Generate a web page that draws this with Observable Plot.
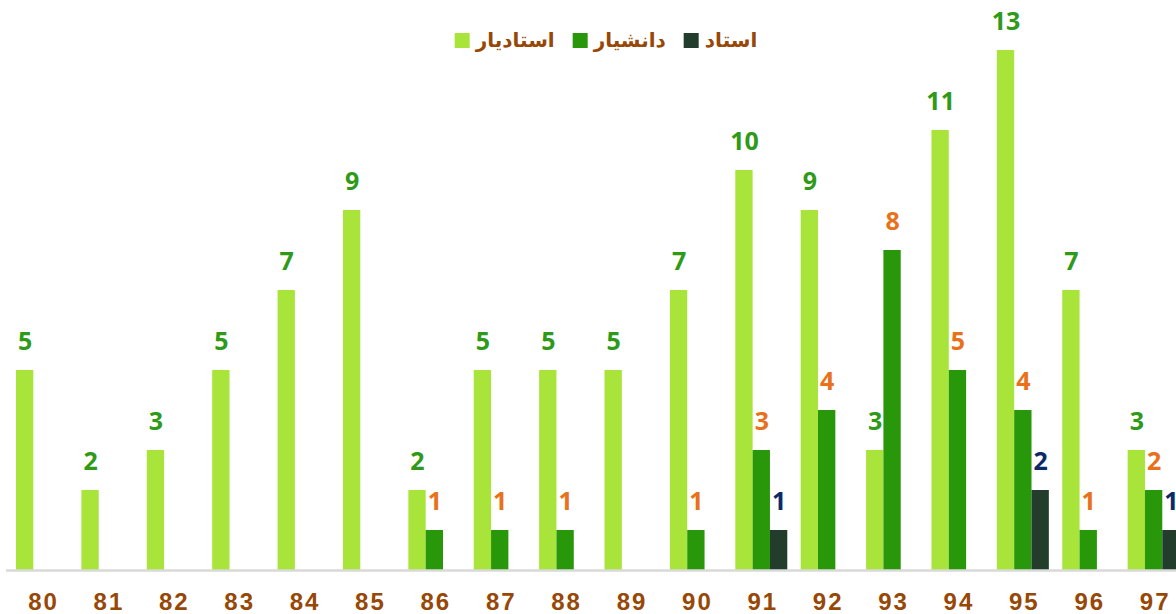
<!DOCTYPE html>
<html>
<head>
<meta charset="utf-8">
<script src="https://cdn.jsdelivr.net/npm/d3@7"></script>
<script src="https://cdn.jsdelivr.net/npm/@observablehq/plot@0.6"></script>
<style>
  html, body { margin: 0; padding: 0; background: #fff; overflow: hidden; width: 1176px; height: 614px; }
  #wrap { position: relative; width: 1176px; height: 614px; overflow: hidden; }
  #legend { position: absolute; top: 28px; left: 606px; transform: translateX(-50%); display: flex; align-items: center; direction: ltr; white-space: nowrap;
    font-family: "DejaVu Sans", sans-serif; font-weight: bold; font-size: 20px; color: #974706; }
  .item { display: flex; align-items: center; margin: 0 9px; }
  .sw { width: 15px; height: 15px; margin-right: 6px; }
  .lab { direction: rtl; unicode-bidi: isolate; }
  #chart svg g[aria-label="x-axis tick label"] text { letter-spacing: 2px; }
</style>
</head>
<body>
<div id="wrap">
  <div id="chart"></div>
  <div id="legend"></div>
</div>
<script>
// Categories (years) and series values
const years = ["80","81","82","83","84","85","86","87","88","89","90","91","92","93","94","95","96","97"];
const seriesNames = ["استادیار", "دانشیار", "استاد"];
const assistantProf = [5,2,3,5,7,9,2,5,5,5,7,10,9,3,11,13,7,3];
const associateProf = [0,0,0,0,0,0,1,1,1,0,1,3,4,8,5,4,1,2];
const fullProf      = [0,0,0,0,0,0,0,0,0,0,0,1,0,0,0,2,0,1];

const barColors = ["#a9e43b", "#28980a", "#233d2c"];
const labelColors = ["#2e9a17", "#e8711a", "#0c2a6a"];
const brown = "#974706";

const seriesValues = [assistantProf, associateProf, fullProf];
const rows = seriesValues.map((vals, s) =>
  years.map((yr, i) => ({year: yr, value: vals[i], series: s})).filter(d => d.value > 0)
);

const step = 65.39, pad = 0.205;
const bw = step * (1 - pad);
const third = bw / 3;

const marks = [];
rows.forEach((data, s) => {
  marks.push(Plot.barY(data, {
    x: "year", y: "value", fill: barColors[s],
    insetLeft: s * third, insetRight: (2 - s) * third
  }));
});
rows.forEach((data, s) => {
  marks.push(Plot.text(data, {
    x: "year", y: "value", text: d => String(d.value),
    dx: (s - 1) * third, dy: -29, lineAnchor: "middle",
    fill: labelColors[s], fontSize: 25, fontWeight: "bold",
    fontFamily: "'Open Sans', sans-serif"
  }));
});
marks.push(Plot.ruleY([0], {stroke: "#d9d9d9", strokeWidth: 2.5, insetLeft: 6}));
marks.push(Plot.axisX({
  tickSize: 0, tickPadding: 22, fontSize: 24, fontWeight: "bold", dx: 1,
  fill: brown, fontFamily: "'Liberation Sans', sans-serif", label: null
}));

const chart = Plot.plot({
  width: 1176, height: 614,
  marginLeft: 0, marginRight: 0, marginTop: 50, marginBottom: 44,
  x: {domain: years, range: [2.6, 2.6 + step * (years.length + pad)], padding: pad, align: 0.5, round: false},
  y: {domain: [0, 13], range: [570, 50], axis: null},
  style: {background: "white", overflow: "visible"},
  marks
});
document.getElementById("chart").appendChild(chart);

const legend = document.getElementById("legend");
seriesNames.forEach((name, s) => {
  const it = document.createElement("div");
  it.className = "item";
  const sw = document.createElement("span");
  sw.className = "sw"; sw.style.background = barColors[s];
  const lab = document.createElement("span");
  lab.className = "lab"; lab.textContent = name;
  it.appendChild(sw); it.appendChild(lab);
  legend.appendChild(it);
});
</script>
</body>
</html>
